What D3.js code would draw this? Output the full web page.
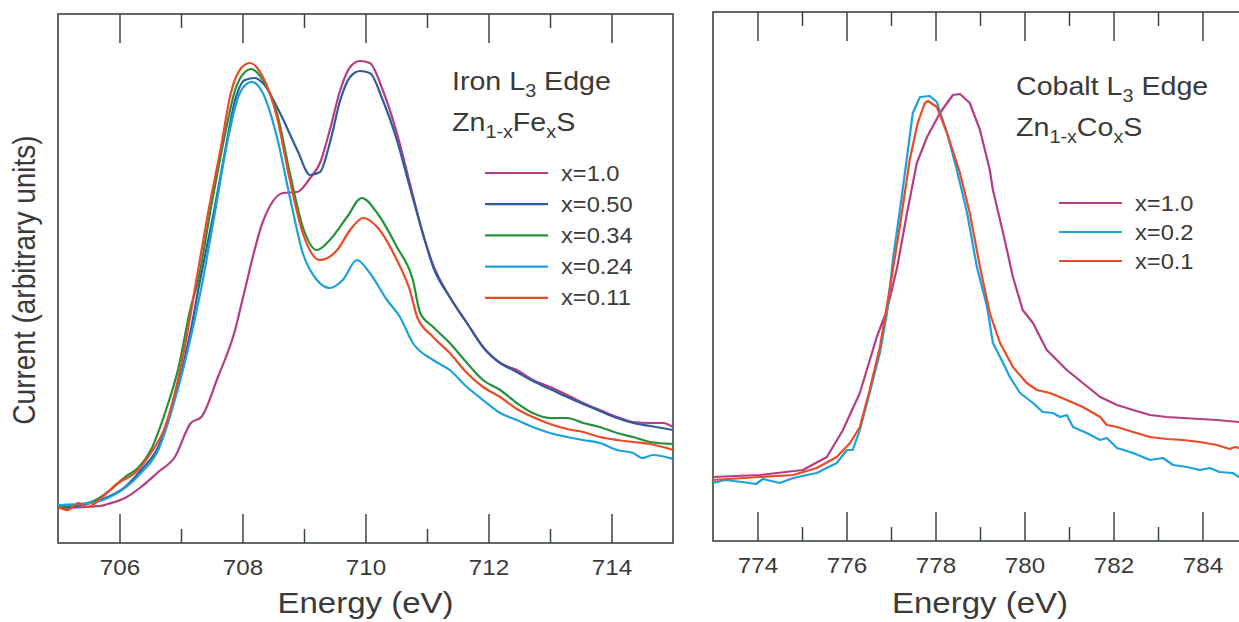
<!DOCTYPE html>
<html>
<head>
<meta charset="utf-8">
<script src="https://cdn.jsdelivr.net/npm/d3@7"></script>
<style>
  body { margin: 0; background: #fff; }
  svg { display: block; font-family: "Liberation Sans", Arial, sans-serif; }
</style>
</head>
<body>
<div id="chart"></div>
<script>
// ---- data: iron L3 edge, Zn(1-x)Fe(x)S  [energy eV, current a.u.]
const feLabels = ["x=1.0", "x=0.50", "x=0.34", "x=0.24", "x=0.11"];
const feColors = ["#b53c82", "#2f5c9c", "#24923a", "#1ba2db", "#ec4a26"];

const fe100 = [[705.00,3.5],[705.68,3.7],[705.81,3.9],[706.09,4.5],[706.35,5.6],[706.63,7.1],[706.90,8.6],[707.16,12.0],[707.33,12.6],[707.60,16.6],[707.88,21.3],[708.01,24.6],[708.33,32.1],[708.66,35.0],[708.89,35.1],[709.10,36.5],[709.26,38.0],[709.42,41.3],[709.59,45.3],[709.75,47.6],[709.91,48.2],[710.07,48.0],[710.28,45.3],[710.51,41.0],[710.72,36.0],[710.93,31.0],[711.10,27.8],[711.37,24.6],[711.65,22.0],[711.91,19.6],[712.19,18.0],[712.46,17.3],[712.72,16.3],[713.00,15.6],[713.28,14.8],[713.54,14.0],[713.81,13.3],[714.09,12.6],[714.35,12.1],[714.63,12.0],[714.84,12.0],[715.00,11.6]];
const fe050 = [[705.00,3.5],[705.54,4.0],[705.81,4.6],[706.09,5.6],[706.35,7.3],[706.63,9.6],[706.90,14.6],[707.16,21.3],[707.28,25.3],[707.55,33.6],[707.72,39.3],[707.88,44.3],[708.04,46.3],[708.20,46.5],[708.33,46.0],[708.61,43.0],[708.89,39.3],[709.10,36.8],[709.26,37.1],[709.42,40.0],[709.59,44.3],[709.75,46.6],[709.91,47.2],[710.07,47.0],[710.28,44.3],[710.51,40.3],[710.72,35.6],[710.93,31.0],[711.10,27.6],[711.37,24.6],[711.65,22.0],[711.91,19.6],[712.19,18.0],[712.46,17.1],[712.72,16.2],[713.00,15.4],[713.28,14.6],[713.54,13.9],[713.81,13.2],[714.09,12.5],[714.35,12.0],[714.63,11.7],[715.00,11.3]];
const fe034 = [[705.00,3.6],[705.54,4.1],[705.81,5.1],[706.09,6.6],[706.30,7.5],[706.51,9.3],[706.74,13.0],[706.95,17.3],[707.16,23.6],[707.28,26.3],[707.49,33.6],[707.72,41.0],[707.88,45.3],[708.04,47.1],[708.14,47.4],[708.33,46.3],[708.56,43.0],[708.77,37.0],[708.98,31.6],[709.21,29.3],[709.42,30.3],[709.70,32.6],[709.94,34.5],[710.19,33.0],[710.51,29.6],[710.77,26.3],[710.89,23.0],[711.10,21.6],[711.37,20.0],[711.65,18.0],[711.91,16.3],[712.19,15.3],[712.46,14.0],[712.72,13.0],[713.00,12.5],[713.28,12.5],[713.54,12.0],[713.81,11.6],[714.09,11.0],[714.35,10.6],[714.63,10.1],[715.00,9.9]];
const fe024 = [[705.00,3.8],[705.54,4.0],[705.81,4.5],[706.09,5.5],[706.35,7.0],[706.63,9.3],[706.90,14.3],[707.16,20.6],[707.33,25.5],[707.55,33.0],[707.76,40.3],[707.93,44.6],[708.09,46.0],[708.15,46.1],[708.33,45.0],[708.56,40.6],[708.77,34.6],[708.98,29.0],[709.21,26.3],[709.42,25.5],[709.63,26.3],[709.86,28.3],[710.07,27.0],[710.35,24.3],[710.56,22.6],[710.77,20.0],[711.10,18.3],[711.37,17.3],[711.65,15.6],[711.91,14.3],[712.19,13.0],[712.46,12.3],[712.72,11.6],[713.00,11.0],[713.28,10.6],[713.54,10.3],[713.81,10.0],[714.09,9.3],[714.35,9.0],[714.51,8.5],[714.67,8.8],[715.00,8.4]];
const fe011 = [[705.00,3.6],[705.16,3.3],[705.33,4.0],[705.49,3.6],[705.70,4.5],[705.98,6.0],[706.25,7.0],[706.51,9.0],[706.74,11.6],[706.95,16.3],[707.16,23.0],[707.23,25.6],[707.44,33.0],[707.65,39.6],[707.81,45.0],[707.98,47.5],[708.12,48.0],[708.33,46.6],[708.56,42.6],[708.77,36.3],[708.98,31.0],[709.26,28.3],[709.54,29.3],[709.75,31.3],[709.96,32.5],[710.19,31.6],[710.51,28.3],[710.72,25.3],[710.84,22.6],[711.10,20.6],[711.37,19.0],[711.65,17.0],[711.91,15.6],[712.19,14.6],[712.46,13.4],[712.72,12.6],[713.00,11.9],[713.28,11.4],[713.54,11.1],[713.81,10.6],[714.09,10.3],[714.35,10.1],[714.63,9.9],[715.00,9.3]];

// ---- data: cobalt L3 edge, Zn(1-x)Co(x)S
const coLabels = ["x=1.0", "x=0.2", "x=0.1"];
const coColors = ["#b53c82", "#1ba2db", "#ec4a26"];

const co10 = [[773.00,6.4],[774.05,6.6],[775.02,7.1],[775.56,8.4],[775.92,11.1],[776.30,14.8],[776.68,20.4],[776.91,23.1],[777.14,27.4],[777.36,32.8],[777.58,37.8],[777.81,40.4],[778.10,42.8],[778.39,44.6],[778.55,44.7],[778.77,43.8],[779.00,41.1],[779.22,37.1],[779.29,35.1],[779.52,30.8],[779.74,26.4],[779.96,23.1],[780.19,21.8],[780.50,19.1],[780.95,17.1],[781.31,15.8],[781.70,14.4],[782.08,13.6],[782.44,13.1],[782.82,12.6],[783.20,12.4],[783.56,12.3],[783.94,12.2],[784.32,12.1],[784.82,11.9],[785.00,11.9]];
const co02 = [[773.00,5.8],[773.27,6.1],[773.65,5.9],[773.97,5.7],[774.12,6.2],[774.50,5.8],[774.80,6.3],[775.33,6.8],[775.78,7.8],[776.01,9.1],[776.14,9.1],[776.30,11.1],[776.52,14.8],[776.75,18.8],[776.91,22.8],[777.05,28.4],[777.21,33.4],[777.36,38.4],[777.49,42.8],[777.65,44.4],[777.87,44.5],[778.03,43.9],[778.26,40.8],[778.48,37.1],[778.71,32.8],[778.93,27.4],[779.16,23.4],[779.29,19.8],[779.52,17.8],[779.67,16.4],[779.90,14.8],[780.19,13.8],[780.41,12.9],[780.64,12.8],[780.80,12.4],[780.95,12.6],[781.09,11.4],[781.40,10.8],[781.70,10.1],[781.85,10.3],[782.08,9.3],[782.44,8.8],[782.82,8.1],[783.11,8.3],[783.34,7.6],[783.65,7.4],[783.94,7.1],[784.17,7.3],[784.38,6.9],[784.68,6.8],[784.82,6.4],[785.00,6.4]];
const co01 = [[773.00,6.1],[774.05,6.4],[774.80,6.6],[775.33,7.3],[775.78,8.4],[776.08,9.8],[776.30,11.4],[776.52,15.1],[776.75,19.4],[776.98,25.4],[777.21,31.8],[777.42,38.1],[777.60,41.8],[777.76,43.8],[777.83,44.0],[778.03,43.4],[778.26,40.8],[778.55,36.8],[778.77,32.8],[779.00,27.4],[779.22,22.8],[779.45,19.8],[779.74,17.4],[780.05,15.8],[780.28,15.1],[780.57,14.8],[780.95,14.1],[781.31,13.4],[781.70,12.4],[781.85,11.6],[782.08,11.4],[782.44,10.9],[782.82,10.4],[783.20,10.2],[783.56,10.1],[783.94,9.9],[784.32,9.6],[784.61,9.2],[784.73,9.4],[784.82,9.3],[785.00,9.3]];

const feMajor = [706, 708, 710, 712, 714];
const feMinor = [707, 709, 711, 713];
const coMajor = [774, 776, 778, 780, 782, 784];
const coMinor = [775, 777, 779, 781, 783];

// ---- layout
const W = 1239, H = 622;
const ink = "#3b463b", txt = "#3a3a3a", sx = 1.1;

const svg = d3.select("#chart").append("svg")
  .attr("width", W).attr("height", H);
svg.append("rect").attr("width", W).attr("height", H).attr("fill", "#fff");

// stretched text helper (the original lettering is a bit wide)
let label = (x, y, size, anchor) =>
  svg.append("text")
    .attr("transform", `translate(${x},${y}) scale(${sx},1)`)
    .attr("font-size", size)
    .attr("text-anchor", anchor)
    .attr("fill", txt);

let drawPanel = (p) => {
  var x = d3.scaleLinear().domain(p.xDomain).range([p.left, p.right]),
    y = d3.scaleLinear().domain([0, 52.9]).range([p.bottom, p.top]);

  var clipId = "clip" + p.id;
  svg.append("clipPath").attr("id", clipId)
    .append("rect")
    .attr("x", p.left).attr("y", p.top)
    .attr("width", p.right - p.left).attr("height", p.bottom - p.top);

  // frame
  svg.append("rect")
    .attr("x", p.left).attr("y", p.top)
    .attr("width", p.right - p.left).attr("height", p.bottom - p.top)
    .attr("fill", "none").attr("stroke", ink).attr("stroke-width", 1.6);

  // ticks, pointing inward at top and bottom
  var styleAxis = (g) => {
    g.select(".domain").remove();
    g.selectAll("line").attr("stroke", ink).attr("stroke-width", 1.5);
    g.attr("font-family", null).attr("font-size", null);
  };
  var gb = svg.append("g").attr("transform", `translate(0,${p.bottom})`)
    .call(d3.axisBottom(x).tickValues(p.major).tickSize(-29).tickPadding(16).tickSizeOuter(0))
    .call(styleAxis);
  gb.selectAll("text")
    .attr("font-size", 22).attr("fill", txt)
    .attr("transform", `scale(${sx},1)`);
  svg.append("g").attr("transform", `translate(0,${p.bottom})`)
    .call(d3.axisBottom(x).tickValues(p.minor).tickSize(-14).tickFormat("").tickSizeOuter(0))
    .call(styleAxis);
  svg.append("g").attr("transform", `translate(0,${p.top})`)
    .call(d3.axisTop(x).tickValues(p.major).tickSize(-29).tickFormat("").tickSizeOuter(0))
    .call(styleAxis);
  svg.append("g").attr("transform", `translate(0,${p.top})`)
    .call(d3.axisTop(x).tickValues(p.minor).tickSize(-14).tickFormat("").tickSizeOuter(0))
    .call(styleAxis);

  // curves
  var line = d3.line()
    .x((d) => x(d[0]))
    .y((d) => y(d[1]))
    .curve(p.curve);
  svg.append("g").attr("clip-path", `url(#${clipId})`)
    .selectAll("path")
    .data(p.series)
    .enter()
    .append("path")
    .attr("d", (d) => line(d))
    .attr("fill", "none")
    .attr("stroke", (d, i) => p.colors[i])
    .attr("stroke-width", 2.2)
    .attr("stroke-linejoin", "round");

  // x axis title
  label((p.left + p.right) / 2, 613, 30, "middle").text("Energy (eV)");

  // title with subscripts
  var t1 = label(p.titleX, p.titleY, 26, "start");
  t1.append("tspan").text(p.element + " L");
  t1.append("tspan").text("3").attr("font-size", 18).attr("dy", 7);
  t1.append("tspan").text(" Edge").attr("dy", -7);
  var t2 = label(p.titleX, p.titleY + 41, 26, "start");
  t2.append("tspan").text("Zn");
  t2.append("tspan").text("1-x").attr("font-size", 18).attr("dy", 7);
  t2.append("tspan").text(p.symbol).attr("dy", -7);
  t2.append("tspan").text("x").attr("font-size", 18).attr("dy", 7);
  t2.append("tspan").text("S").attr("dy", -7);

  // legend
  p.labels.forEach((name, i) => {
    var ly = p.legY + i * p.legStep;
    svg.append("line")
      .attr("x1", p.legX).attr("x2", p.legX + 63)
      .attr("y1", ly).attr("y2", ly)
      .attr("stroke", p.colors[i]).attr("stroke-width", 2.2);
    label(p.legX + 76, ly + 7.5, 21.5, "start").text(name);
  });
};

drawPanel({
  id: "fe", xDomain: [705, 715], left: 58, right: 673, top: 14, bottom: 543,
  major: feMajor, minor: feMinor,
  series: [fe100, fe050, fe034, fe024, fe011], colors: feColors, labels: feLabels,
  curve: d3.curveMonotoneX,
  element: "Iron", symbol: "Fe", titleX: 452, titleY: 90,
  legX: 485, legY: 173, legStep: 31.2
});

drawPanel({
  id: "co", xDomain: [773, 785], left: 713, right: 1247, top: 12, bottom: 541,
  major: coMajor, minor: coMinor,
  series: [co10, co02, co01], colors: coColors, labels: coLabels,
  curve: d3.curveLinear,
  element: "Cobalt", symbol: "Co", titleX: 1016, titleY: 95,
  legX: 1059, legY: 203, legStep: 29
});

// y axis title (no y ticks in the original)
svg.append("text")
  .attr("transform", `translate(35,280) scale(${sx},1) rotate(-90)`)
  .attr("font-size", 28)
  .attr("text-anchor", "middle")
  .attr("fill", txt)
  .text("Current (arbitrary units)");
</script>
</body>
</html>
